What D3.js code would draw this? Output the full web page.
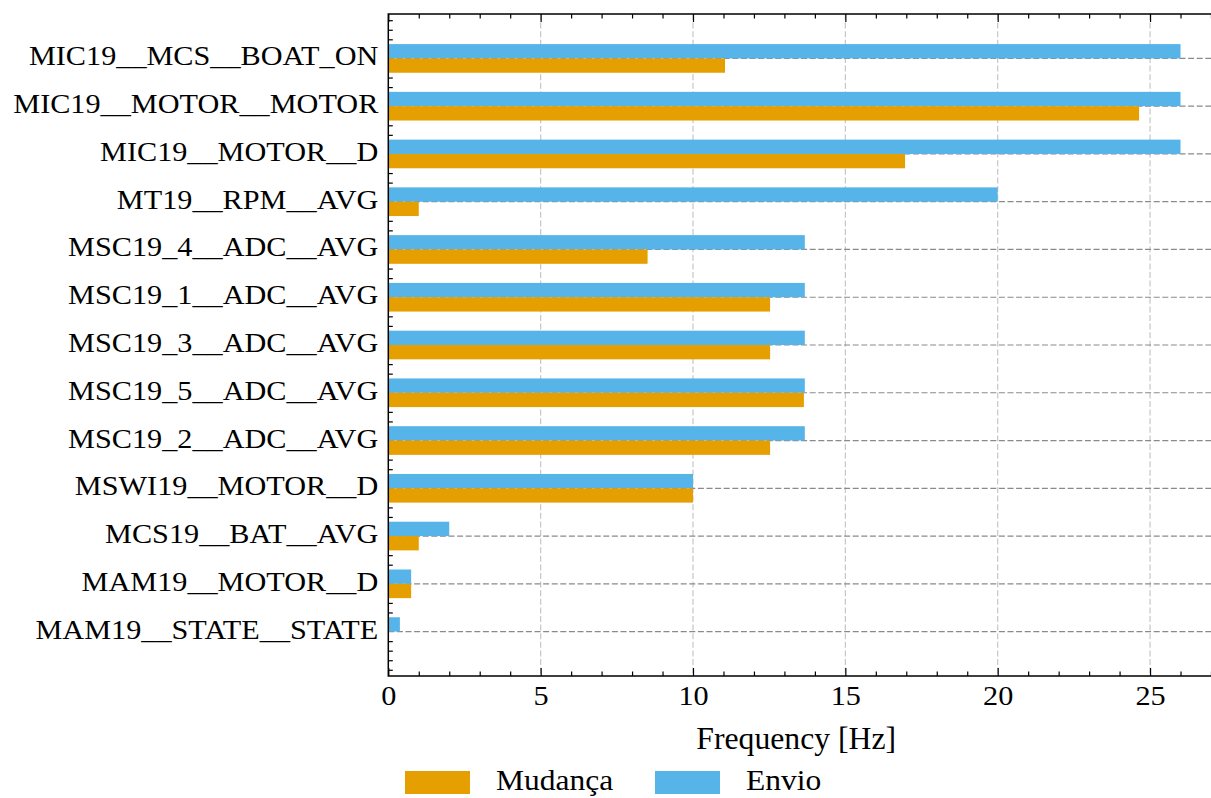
<!DOCTYPE html>
<html>
<head>
<meta charset="utf-8">
<script src="https://cdn.jsdelivr.net/npm/d3@7"></script>
<style>
  html, body { margin: 0; padding: 0; background: #fff; }
  svg { display: block; }
  svg text { font-family: "Liberation Serif", "Times New Roman", Times, "DejaVu Serif", serif !important; fill: #000; }
</style>
</head>
<body>
<svg id="chart" width="1211" height="798"></svg>
<script>
// Message identifiers, top to bottom
const categories = [
  "MIC19__MCS__BOAT_ON",
  "MIC19__MOTOR__MOTOR",
  "MIC19__MOTOR__D",
  "MT19__RPM__AVG",
  "MSC19_4__ADC__AVG",
  "MSC19_1__ADC__AVG",
  "MSC19_3__ADC__AVG",
  "MSC19_5__ADC__AVG",
  "MSC19_2__ADC__AVG",
  "MSWI19__MOTOR__D",
  "MCS19__BAT__AVG",
  "MAM19__MOTOR__D",
  "MAM19__STATE__STATE"
];
// Frequency of value changes (Hz)
const mudanca = [11.05, 24.64, 16.96, 1.0, 8.51, 12.53, 12.53, 13.64, 12.53, 10.0, 1.0, 0.75, 0.0];
// Frequency of transmissions (Hz)
const envio = [26.0, 26.0, 26.0, 20.0, 13.67, 13.67, 13.67, 13.67, 13.67, 10.0, 2.0, 0.75, 0.38];

const seriesNames = ["Mudança", "Envio"];
const seriesColors = ["#E69F00", "#56B4E9"];
const xMajorTicks = [0, 5, 10, 15, 20, 25];
const xLabel = "Frequency [Hz]";

const svg = d3.select("#chart");

const plotLeft = 388.3, plotTop = 14, plotBottom = 676;
const barH = 0.3;
const n = categories.length;
const yPad = (n - 1 + 2 * barH) * 0.05;
const xMax = 27.3;
const stretch = 1.12; // horizontal stretch applied to the small labels

const x = d3.scaleLinear().domain([0, xMax]).range([plotLeft, plotLeft + xMax * 30.47]);
const y = d3.scaleLinear().domain([-barH - yPad, n - 1 + barH + yPad]).range([plotTop, plotBottom]);

const plotRight = x(xMax);

// Grid: vertical at major x ticks, horizontal at each category
const grid = svg.append("g");
grid.selectAll("line.vg").data(xMajorTicks.filter(d => d > 0)).join("line")
  .attr("class", "vg")
  .attr("x1", d => x(d)).attr("x2", d => x(d))
  .attr("y1", plotTop).attr("y2", plotBottom)
  .attr("stroke", "#c6c6c6").attr("stroke-width", 1.2)
  .attr("stroke-dasharray", "6,2.6");
grid.selectAll("line.hg").data(categories).join("line")
  .attr("class", "hg")
  .attr("x1", plotLeft).attr("x2", plotRight)
  .attr("y1", (d, i) => y(i)).attr("y2", (d, i) => y(i))
  .attr("stroke", "#8a8a8a").attr("stroke-width", 1.2)
  .attr("stroke-dasharray", "6,2.6");

// Minor ticks on the category axis (inside), drawn beneath the bars
const yMinor = d3.range(-4, (n - 1) * 5 + 5).map(k => k / 5).filter(v => Math.abs(v - Math.round(v)) > 1e-6);
svg.append("g")
  .attr("transform", `translate(${plotLeft},0)`)
  .call(d3.axisLeft(y).tickValues(yMinor).tickSize(-4.5).tickFormat(""))
  .call(g => g.select(".domain").remove())
  .call(g => g.selectAll("line").attr("stroke", "#000").attr("stroke-width", 1.2));

// Bars
const bars = svg.append("g");
bars.selectAll("rect.envio").data(envio).join("rect")
  .attr("class", "envio")
  .attr("x", x(0))
  .attr("y", (d, i) => y(i - barH))
  .attr("width", d => x(d) - x(0))
  .attr("height", y(barH) - y(0))
  .attr("fill", seriesColors[1]);
bars.selectAll("rect.mud").data(mudanca).join("rect")
  .attr("class", "mud")
  .attr("x", x(0))
  .attr("y", (d, i) => y(i))
  .attr("width", d => x(d) - x(0))
  .attr("height", y(barH) - y(0))
  .attr("fill", seriesColors[0]);

// X axes (bottom with labels, top mirrored), ticks pointing inward
const xMinor = d3.range(0, Math.floor(xMax) + 1).filter(v => v % 5 !== 0);
const styleAxis = g => {
  g.select(".domain").remove();
  g.selectAll("line").attr("stroke", "#000").attr("stroke-width", 1.2);
};
svg.append("g").attr("transform", `translate(0,${plotBottom})`)
  .call(d3.axisBottom(x).tickValues(xMajorTicks).tickSize(-8).tickPadding(10).tickFormat(d3.format("d")))
  .call(styleAxis)
  .call(g => g.selectAll("text").attr("font-size", 27).attr("fill", "#000")
    .attr("transform", `scale(${stretch},1)`));
svg.append("g").attr("transform", `translate(0,${plotBottom})`)
  .call(d3.axisBottom(x).tickValues(xMinor).tickSize(-4.5).tickFormat(""))
  .call(styleAxis);
svg.append("g").attr("transform", `translate(0,${plotTop})`)
  .call(d3.axisTop(x).tickValues(xMajorTicks).tickSize(-8).tickFormat(""))
  .call(styleAxis);
svg.append("g").attr("transform", `translate(0,${plotTop})`)
  .call(d3.axisTop(x).tickValues(xMinor).tickSize(-4.5).tickFormat(""))
  .call(styleAxis);

// Spines
svg.append("path")
  .attr("d", `M${plotRight},${plotTop}H${plotLeft}V${plotBottom}H${plotRight}`)
  .attr("fill", "none").attr("stroke", "#000").attr("stroke-width", 1.5);

// Category labels
svg.append("g").selectAll("text").data(categories).join("text")
  .attr("transform", (d, i) => `translate(${plotLeft - 10},${y(i) + 7}) scale(${stretch},1)`)
  .attr("text-anchor", "end")
  .attr("font-size", 27)
  .text(d => d);

// Axis title
svg.append("text")
  .attr("transform", `translate(${(plotLeft + plotRight) / 2 - 8},748.5) scale(1.04,1)`)
  .attr("text-anchor", "middle")
  .attr("font-size", 30.5)
  .text(xLabel);

// Legend
const legendItems = [
  { name: seriesNames[0], color: seriesColors[0], x: 405 },
  { name: seriesNames[1], color: seriesColors[1], x: 655 }
];
const lg = svg.append("g");
lg.selectAll("rect").data(legendItems).join("rect")
  .attr("x", d => d.x).attr("y", 771)
  .attr("width", 65).attr("height", 23)
  .attr("fill", d => d.color);
lg.selectAll("text").data(legendItems).join("text")
  .attr("transform", d => `translate(${d.x + 91},790) scale(1.05,1)`)
  .attr("font-size", 30)
  .text(d => d.name);
</script>
</body>
</html>
